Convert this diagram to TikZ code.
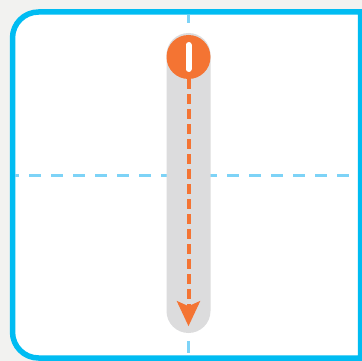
\documentclass[tikz,border=0pt]{standalone}
\usetikzlibrary{arrows.meta, positioning}
\definecolor{framecyan}{HTML}{00BCF2}
\definecolor{guideblue}{HTML}{7DD3F7}
\definecolor{handleorange}{HTML}{F47433}
\definecolor{trackgray}{HTML}{DCDCDD}
\definecolor{pagegray}{HTML}{F2F2F0}

\begin{document}
\begin{tikzpicture}[x=1pt, y=-1pt,
  guide/.style={guideblue, line width=3pt, dash pattern=on 12pt off 10pt},
  track/.style={fill=trackgray, rounded corners=22pt, minimum width=44pt, minimum height=300pt, inner sep=0pt},
  handle/.style={circle, fill=handleorange, minimum size=44pt, inner sep=0pt},
  motion/.style={handleorange, line width=4pt, dash pattern=on 10pt off 5pt, -{Stealth[length=25pt, width=23pt, inset=5pt]}}]
\useasboundingbox (0,0) rectangle (362,361);
\clip (0,0) rectangle (362,361);
\fill[pagegray] (0,0) rectangle (362,361);
% frame
\draw[framecyan, line width=5.5pt, fill=white] (360.5,12) [rounded corners=26pt] -- (12.5,12) -- (12.5,358) [sharp corners] -- (360.5,358) -- cycle;
% guides
\draw[guide, dash phase=8pt] (15,175) -- (358,175);
\draw[guide, dash phase=4pt] (188.5,15) -- (188.5,355);
% slider
\node[track] (track) at (188.5,183) {};
\node[handle, below=2pt of track.north] (handle) {};
\coordinate[above=7pt of track.south] (tip);
\draw[motion] (handle) -- (tip);
\draw[white, line width=6pt, line cap=round] ([yshift=12pt]handle.center) -- ([yshift=-12pt]handle.center);
\end{tikzpicture}
\end{document}
